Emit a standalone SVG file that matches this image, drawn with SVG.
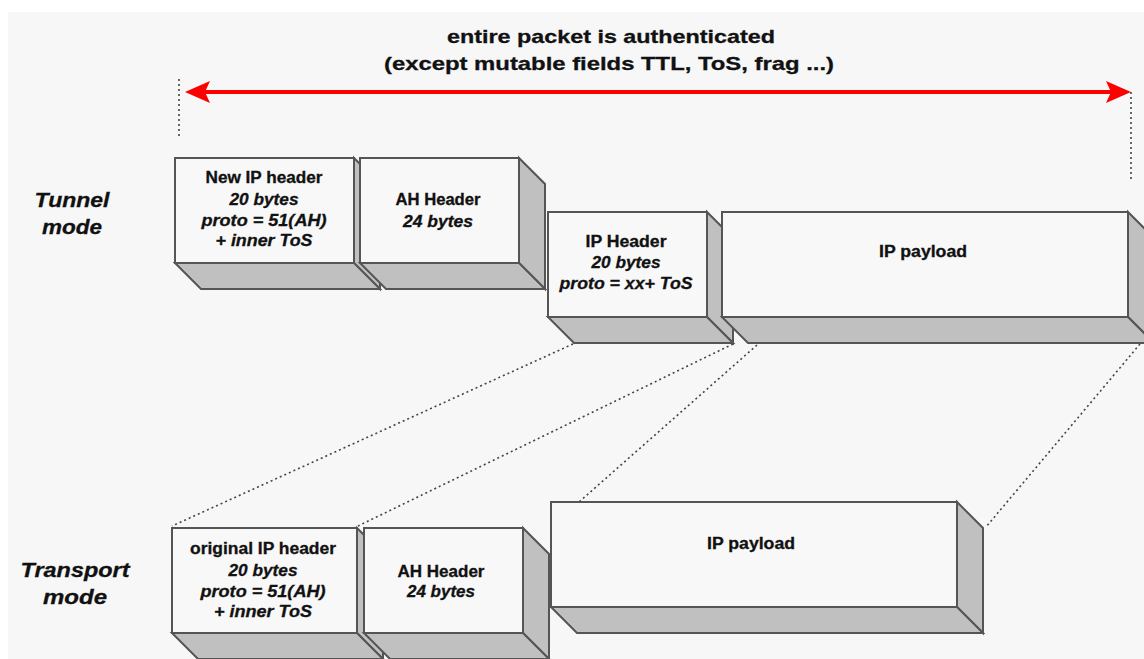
<svg xmlns="http://www.w3.org/2000/svg" width="1144" height="659" viewBox="0 0 1144 659">
<style>
.bg{fill:#f7f7f7}
.front{fill:#f8f8f8;stroke:#555;stroke-width:2}
.side{fill:#c0c0c0;stroke:#555;stroke-width:2;stroke-linejoin:miter}
.t{font-family:"Liberation Sans",Arial,sans-serif;font-weight:bold;fill:#111;stroke:#111;stroke-width:0.3;text-anchor:middle}
.i{font-style:italic}
.box{font-size:16px}
.title{font-size:19px}
.lbl{font-size:20px}
.dot{fill:none;stroke:#444;stroke-width:1.6;stroke-dasharray:2 3}
.arrow{fill:none;stroke:#ff0000;stroke-width:4}
</style>
<defs>
<marker id="ah" markerUnits="userSpaceOnUse" markerWidth="26" markerHeight="24" refX="10" refY="11" orient="auto-start-reverse" viewBox="0 0 26 24">
<path d="M0,0 L25,11 L0,22 L5,11 z" fill="#ff0000"/>
</marker>
</defs>
<rect class="bg" x="8" y="12" width="1136" height="647"/>

<g id="title">
<text class="t title" x="611" y="43" textLength="328" lengthAdjust="spacingAndGlyphs">entire packet is authenticated</text>
<text class="t title" x="609" y="70" textLength="450" lengthAdjust="spacingAndGlyphs">(except mutable fields TTL, ToS, frag ...)</text>
</g>

<g id="labels">
<text class="t i lbl" x="72" y="207" textLength="75" lengthAdjust="spacingAndGlyphs">Tunnel</text>
<text class="t i lbl" x="72" y="234" textLength="60" lengthAdjust="spacingAndGlyphs">mode</text>
<text class="t i lbl" x="75" y="577" textLength="109" lengthAdjust="spacingAndGlyphs">Transport</text>
<text class="t i lbl" x="75" y="604" textLength="64" lengthAdjust="spacingAndGlyphs">mode</text>
</g>

<g id="connectors">
<line class="dot" x1="179" y1="79" x2="179" y2="138"/>
<line class="dot" x1="1131" y1="92" x2="1131" y2="180"/>
<line class="arrow" x1="200" y1="92" x2="1116" y2="92" marker-start="url(#ah)" marker-end="url(#ah)"/>
<line class="dot" x1="573" y1="344" x2="172" y2="526"/>
<line class="dot" x1="733" y1="344" x2="358" y2="526"/>
<line class="dot" x1="757" y1="345" x2="579" y2="502"/>
<line class="dot" x1="1140" y1="344" x2="986" y2="527"/>
</g>

<g id="tunnel-new-ip-header">
<polygon class="side" points="354,158 380,184 380,289 354,263"/>
<polygon class="side" points="175,263 354,263 380,289 201,289"/>
<rect class="front" x="175" y="158" width="179" height="105"/>
<text class="t box" x="264" y="183" textLength="117" lengthAdjust="spacingAndGlyphs">New IP header</text>
<text class="t i box" x="264" y="205" textLength="69" lengthAdjust="spacingAndGlyphs">20 bytes</text>
<text class="t i box" x="264" y="226" textLength="125" lengthAdjust="spacingAndGlyphs">proto = 51(AH)</text>
<text class="t i box" x="264" y="246" textLength="97" lengthAdjust="spacingAndGlyphs">+ inner ToS</text>
</g>

<g id="tunnel-ah-header">
<polygon class="side" points="519,158 545,184 545,289 519,263"/>
<polygon class="side" points="360,263 519,263 545,289 386,289"/>
<rect class="front" x="360" y="158" width="159" height="105"/>
<text class="t box" x="438" y="205" textLength="85" lengthAdjust="spacingAndGlyphs">AH Header</text>
<text class="t i box" x="438" y="227" textLength="70" lengthAdjust="spacingAndGlyphs">24 bytes</text>
</g>

<g id="tunnel-ip-header">
<polygon class="side" points="707,212 733,238 733,343 707,317"/>
<polygon class="side" points="548,317 707,317 733,343 574,343"/>
<rect class="front" x="548" y="212" width="159" height="105"/>
<text class="t box" x="626" y="247" textLength="81" lengthAdjust="spacingAndGlyphs">IP Header</text>
<text class="t i box" x="626" y="268" textLength="69" lengthAdjust="spacingAndGlyphs">20 bytes</text>
<text class="t i box" x="626" y="289" textLength="133" lengthAdjust="spacingAndGlyphs">proto = xx+ ToS</text>
</g>

<g id="tunnel-ip-payload">
<polygon class="side" points="1128,212 1154,238 1154,343 1128,317"/>
<polygon class="side" points="722,317 1128,317 1154,343 748,343"/>
<rect class="front" x="722" y="212" width="406" height="105"/>
<text class="t box" x="923" y="257" textLength="88" lengthAdjust="spacingAndGlyphs">IP payload</text>
</g>

<g id="transport-original-ip-header">
<polygon class="side" points="357,528 383,554 383,659 357,633"/>
<polygon class="side" points="172,633 357,633 383,659 198,659"/>
<rect class="front" x="172" y="528" width="185" height="105"/>
<text class="t box" x="263" y="554" textLength="146" lengthAdjust="spacingAndGlyphs">original IP header</text>
<text class="t i box" x="263" y="576" textLength="69" lengthAdjust="spacingAndGlyphs">20 bytes</text>
<text class="t i box" x="263" y="597" textLength="125" lengthAdjust="spacingAndGlyphs">proto = 51(AH)</text>
<text class="t i box" x="263" y="617" textLength="98" lengthAdjust="spacingAndGlyphs">+ inner ToS</text>
</g>

<g id="transport-ah-header">
<polygon class="side" points="523,528 549,554 549,659 523,633"/>
<polygon class="side" points="364,633 523,633 549,659 390,659"/>
<rect class="front" x="364" y="528" width="159" height="105"/>
<text class="t box" x="441" y="577" textLength="87" lengthAdjust="spacingAndGlyphs">AH Header</text>
<text class="t i box" x="441" y="597" textLength="68" lengthAdjust="spacingAndGlyphs">24 bytes</text>
</g>

<g id="transport-ip-payload">
<polygon class="side" points="957,502 983,528 983,633 957,607"/>
<polygon class="side" points="551,607 957,607 983,633 577,633"/>
<rect class="front" x="551" y="502" width="406" height="105"/>
<text class="t box" x="751" y="549" textLength="88" lengthAdjust="spacingAndGlyphs">IP payload</text>
</g>
</svg>
